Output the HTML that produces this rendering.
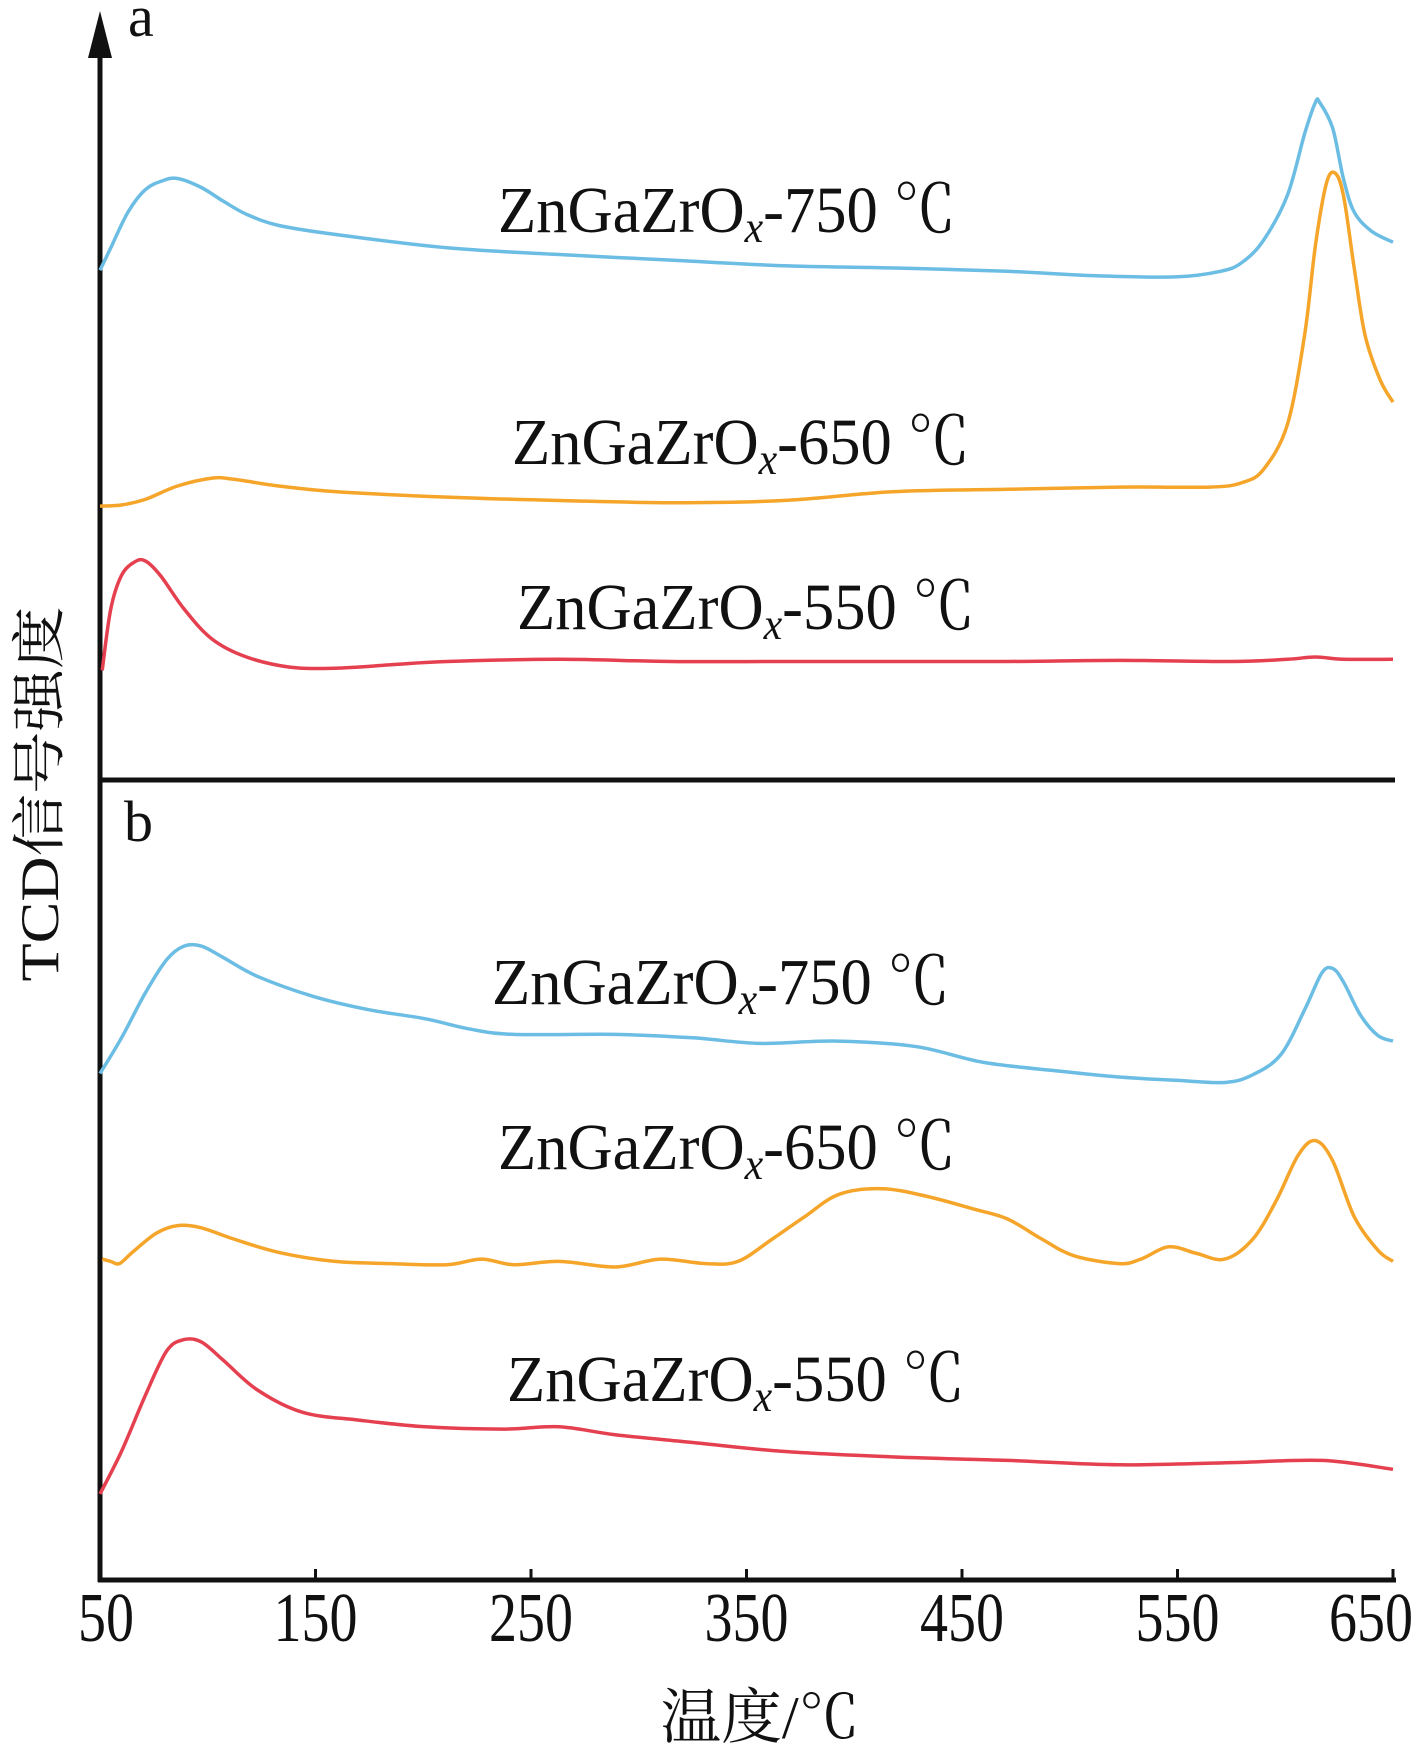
<!DOCTYPE html>
<html><head><meta charset="utf-8"><style>
html,body{margin:0;padding:0;background:#fff}
svg{display:block}
text{font-family:"Liberation Serif","Noto Serif CJK SC",serif;fill:#111}
</style></head><body>
<svg id="chart" width="1417" height="1748" viewBox="0 0 1417 1748" xmlns="http://www.w3.org/2000/svg">
<g id="axes"></g>
<g id="series"></g>
<g id="labels"></g>
</svg>
<script>
const xTicks = [50,150,250,350,450,550,650];
const a750T = [50,55,63,71,79,86,97,107,118,133,159,211,263,315,367,419,471,512,549,570,580,590,601,609,614,616,622,627,632,640,650];
const a750V = [456,476,508,528,536,538,530,518,506,496,488,476,470,465,460,458,455,451,450,455,463,483,523,578,606,606,583,538,508,491,481];
const a650T = [50,60,71,86,102,112,133,159,211,263,315,367,419,471,523,565,580,590,601,609,614,619,623,627,632,637,644,650];
const a650V = [245,246,251,263,270,269,263,258,253,250,248,250,258,260,262,262,266,278,318,398,478,533,543,523,458,398,358,338];
const a550T = [51,55,60,66,71,78,89,102,118,138,159,185,211,263,315,367,419,471,523,575,601,614,627,650];
const a550V = [98,153,183,195,196,183,153,126,110,101,100,103,106,108,106,106,106,106,107,106,108,110,108,108];
const b750T = [50,60,71,81,89,97,107,123,149,175,201,221,242,289,325,356,392,429,460,496,522,549,572,585,598,609,617,622,627,635,643,650];
const b750V = [453,485,525,555,567,567,557,540,522,510,502,493,488,488,485,480,482,477,463,455,450,447,445,452,470,510,543,547,535,505,487,482];
const b650T = [51,55,59,65,76,86,97,112,133,159,185,211,227,242,263,289,310,331,346,362,377,393,413,434,455,471,487,502,523,533,546,559,572,585,596,606,614,622,632,643,650];
const b650V = [287,285,283,293,310,317,315,305,293,285,283,282,287,282,285,280,287,283,285,305,325,345,350,343,332,323,305,290,283,287,298,292,287,305,340,380,393,375,325,295,285];
const b550T = [50,60,71,81,89,97,107,123,144,170,201,237,263,289,325,367,419,471,523,575,617,650];
const b550V = [77,115,165,205,215,213,197,170,150,143,137,135,137,130,123,115,110,107,103,105,107,99];

const NS = "http://www.w3.org/2000/svg";
const X0 = 100, PX_PER_DEG = 2.155;
function xScale(t){ return X0 + (t-50)*PX_PER_DEG; }
function yScaleA(v){ return 780 - v*1.118; }
function yScaleB(v){ return 1580 - v*1.118; }
function mk(tag, attrs, parent){ const e=document.createElementNS(NS,tag); for(const k in attrs) e.setAttribute(k,attrs[k]); parent.appendChild(e); return e; }

const axes=document.getElementById('axes');
let el;
el=mk('line',{x1:100,y1:50,x2:100,y2:1582,stroke:'#111','stroke-width':5},axes);
 
el=mk('polygon',{points:'100,11 88,58 112,58',fill:'#111'},axes);
 
el=mk('line',{x1:98,y1:780,x2:1395,y2:780,stroke:'#111','stroke-width':5},axes);
 
el=mk('line',{x1:98,y1:1580,x2:1396,y2:1580,stroke:'#111','stroke-width':5},axes);
 
xTicks.forEach((t,i)=>{
  const x=xScale(t);
  let tk=mk('line',{x1:x,y1:1580,x2:x,y2:1569,stroke:'#111','stroke-width':3},axes);
   
  const s=String(t);
  let w=s.length*28;
  let cx=x; if(i===0) cx=x+6; if(i===xTicks.length-1) cx=x-22;
  let tl=mk('text',{x:cx,y:1641,'font-size':70,'text-anchor':'middle',textLength:w,lengthAdjust:'spacingAndGlyphs'},axes);
  tl.textContent=s;
   
});

const series=document.getElementById('series');
function smoothPath(pts){
  let d='M'+pts[0][0].toFixed(1)+','+pts[0][1].toFixed(1);
  for(let i=0;i<pts.length-1;i++){
    const p0=pts[Math.max(0,i-1)],p1=pts[i],p2=pts[i+1],p3=pts[Math.min(pts.length-1,i+2)];
    const c1=[p1[0]+(p2[0]-p0[0])/6,p1[1]+(p2[1]-p0[1])/6];
    const c2=[p2[0]-(p3[0]-p1[0])/6,p2[1]-(p3[1]-p1[1])/6];
    d+=' C'+c1[0].toFixed(1)+','+c1[1].toFixed(1)+' '+c2[0].toFixed(1)+','+c2[1].toFixed(1)+' '+p2[0].toFixed(1)+','+p2[1].toFixed(1);
  }
  return d;
}
function drawLine(T,V,ys,color,name){
  const pts=T.map((t,i)=>[xScale(t),ys(V[i])]);
  const p=mk('path',{d:smoothPath(pts),fill:'none',stroke:color,'stroke-width':3.5,'stroke-linejoin':'round'},series);
  
  
}
const BLUE='#6cbde4', ORANGE='#f5a52a', RED='#e5404f';
drawLine(a750T,a750V,yScaleA,BLUE,'line-a-750');
drawLine(a650T,a650V,yScaleA,ORANGE,'line-a-650');
drawLine(a550T,a550V,yScaleA,RED,'line-a-550');
drawLine(b750T,b750V,yScaleB,BLUE,'line-b-750');
drawLine(b650T,b650V,yScaleB,ORANGE,'line-b-650');
drawLine(b550T,b550V,yScaleB,RED,'line-b-550');

const labels=document.getElementById('labels');
function seriesLabel(cx,by,num,name){
  const t=mk('text',{x:cx,y:by,'font-size':66,'text-anchor':'middle',textLength:458,lengthAdjust:'spacingAndGlyphs'},labels);
   
  const a=document.createElementNS(NS,'tspan'); a.textContent='ZnGaZrO'; t.appendChild(a);
  const b=document.createElementNS(NS,'tspan'); b.setAttribute('font-style','italic'); b.setAttribute('font-size','44'); b.setAttribute('dy','10'); b.textContent='x'; t.appendChild(b);
  const c=document.createElementNS(NS,'tspan'); c.setAttribute('dy','-10'); c.textContent='-'+num+' \u2103'; t.appendChild(c);
}
seriesLabel(727,232,'750','label-a-750');
seriesLabel(741,464,'650','label-a-650');
seriesLabel(746,629,'550','label-a-550');
seriesLabel(721,1004,'750','label-b-750');
seriesLabel(727,1169,'650','label-b-650');
seriesLabel(736,1401,'550','label-b-550');

el=mk('text',{x:128,y:36,'font-size':58},labels); el.textContent='a';
 
el=mk('text',{x:124,y:841,'font-size':58},labels); el.textContent='b';
 
el=mk('text',{x:0,y:0,'font-size':54,'text-anchor':'middle',textLength:375,lengthAdjust:'spacingAndGlyphs',transform:'translate(58,794) rotate(-90)'},labels);
el.textContent='TCD信号强度';
 
el=mk('text',{x:760,y:1738,'font-size':60,'text-anchor':'middle',textLength:199,lengthAdjust:'spacingAndGlyphs'},labels);
el.textContent='温度/\u2103';
 
</script>
</body></html>
